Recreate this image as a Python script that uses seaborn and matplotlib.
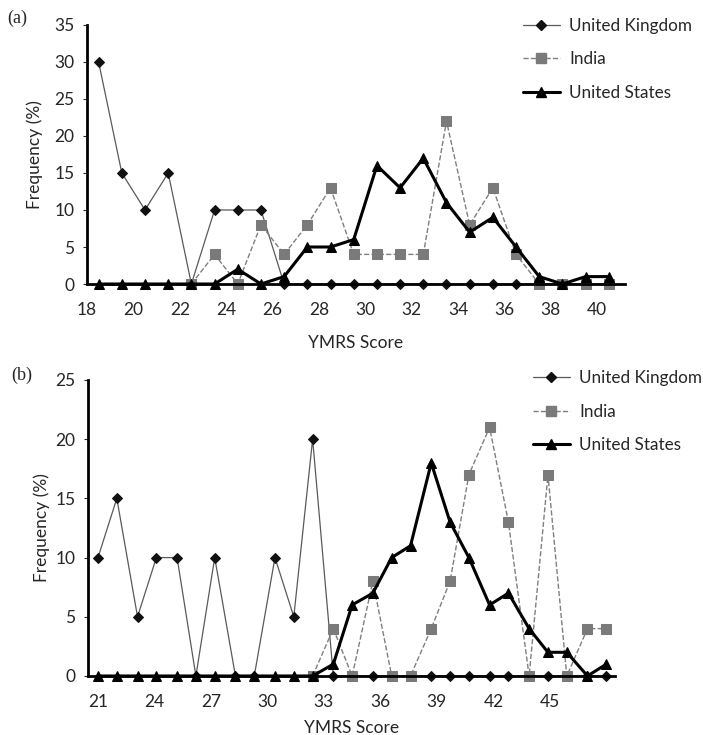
import numpy as np
import pandas as pd
import matplotlib
matplotlib.use('Agg')
import matplotlib.pyplot as plt
from matplotlib.lines import Line2D
import seaborn as sns

# Painel (a): frequencia (%) por escore YMRS
score_a = [18.5, 19.5, 20.5, 21.5, 22.5, 23.5, 24.5, 25.5, 26.5, 27.5, 28.5, 29.5,
           30.5, 31.5, 32.5, 33.5, 34.5, 35.5, 36.5, 37.5, 38.5, 39.5, 40.5]
uk_a = [30, 15, 10, 15, 0, 10, 10, 10, 0, 0, 0, 0, 0, 0, 0, 0, 0, 0, 0, 0, 0, 0, 0]
india_a = [np.nan, np.nan, np.nan, np.nan, 0, 4, 0, 8, 4, 8, 13, 4, 4, 4, 4, 22, 8, 13, 4, 0, 0, 0, 0]
us_a = [0, 0, 0, 0, 0, 0, 2, 0, 1, 5, 5, 6, 16, 13, 17, 11, 7, 9, 5, 1, 0, 1, 1]
xticks_a = [18, 20, 22, 24, 26, 28, 30, 32, 34, 36, 38, 40]
yticks_a = [0, 5, 10, 15, 20, 25, 30, 35]

# Painel (b)
score_b = [21.0, 22.0, 23.1, 24.1, 25.2, 26.2, 27.2, 28.3, 29.3, 30.4, 31.4, 32.4, 33.5, 34.5,
           35.6, 36.6, 37.6, 38.7, 39.7, 40.7, 41.8, 42.8, 43.9, 44.9, 45.9, 47.0, 48.0]
uk_b = [10, 15, 5, 10, 10, 0, 10, 0, 0, 10, 5, 20, 0, 0, 0, 0, 0, 0, 0, 0, 0, 0, 0, 0, 0, 0, 0]
india_b = [np.nan] * 11 + [0, 4, 0, 8, 0, 0, 4, 8, 17, 21, 13, 0, 17, 0, 4, 4]
us_b = [0] * 12 + [1, 6, 7, 10, 11, 18, 13, 10, 6, 7, 4, 2, 2, 0, 1]
xticks_b = [21, 24, 27, 30, 33, 36, 39, 42, 45]
yticks_b = [0, 5, 10, 15, 20, 25]

sns.set_style('white')
plt.rcParams['font.family'] = ['Lato', 'DejaVu Sans']

estilos = {
    'United Kingdom': dict(color='#5a5a5a', linewidth=0.9, linestyle='-', marker='D',
                           markersize=5.5, markerfacecolor='#111111', markeredgecolor='#111111'),
    'India': dict(color='#7f7f7f', linewidth=1.0, linestyle='--', marker='s',
                  markersize=6.5, markerfacecolor='#7a7a7a', markeredgecolor='#7a7a7a'),
    'United States': dict(color='black', linewidth=2.2, linestyle='-', marker='^',
                          markersize=7.5, markerfacecolor='black', markeredgecolor='black'),
}
nomes = ['United Kingdom', 'India', 'United States']


def desenhar_painel(ax, score, uk, india, us, xticks, yticks, xlim, ylim):
    df = pd.DataFrame({'score': score, 'United Kingdom': uk, 'India': india, 'United States': us})
    for pais in nomes:
        sns.lineplot(data=df, x='score', y=pais, ax=ax, clip_on=False, **estilos[pais])
    ax.set_xlim(*xlim)
    ax.set_ylim(*ylim)
    ax.set_xticks(xticks)
    ax.set_xticklabels([str(t) for t in xticks])
    meio = [(score[i] + score[i + 1]) / 2 for i in range(len(score) - 1)]
    ax.set_xticks(meio, minor=True)
    ax.set_yticks(yticks)
    ax.tick_params(axis='x', which='major', length=0, pad=13, labelsize=12.5)
    ax.tick_params(axis='x', which='minor', length=4, width=0.8, color='#555555', direction='out')
    ax.tick_params(axis='y', length=3, width=0.8, pad=6, labelsize=12.5, direction='out', left=True)
    for s in ['top', 'right']:
        ax.spines[s].set_visible(False)
    for s in ['left', 'bottom']:
        ax.spines[s].set_linewidth(2.0)
        ax.spines[s].set_color('black')
    ax.set_xlabel('YMRS Score', fontsize=12.5)
    ax.set_ylabel('Frequency (%)', fontsize=12.5)
    return [Line2D([], [], **estilos[p]) for p in nomes]


fig = plt.figure(figsize=(7.03, 7.35), dpi=100)
ax_a = fig.add_axes([0.1238, 0.6136, 0.7653, 0.3524])
ax_b = fig.add_axes([0.1252, 0.0803, 0.7496, 0.4027])

h = desenhar_painel(ax_a, score_a, uk_a, india_a, us_a, xticks_a, yticks_a, (18, 41.2), (0, 35))
desenhar_painel(ax_b, score_b, uk_b, india_b, us_b, xticks_b, yticks_b, (20.47, 48.46), (0, 25))

ax_a.yaxis.labelpad = 8
ax_b.yaxis.labelpad = 4
ax_a.xaxis.labelpad = 12
ax_b.xaxis.labelpad = 7

leg_kw = dict(loc='upper left', bbox_transform=fig.transFigure, frameon=False, fontsize=12.3,
              handlelength=2.15, labelspacing=1.0, handletextpad=0.55, borderpad=0, borderaxespad=0)
ax_a.legend(h, nomes, bbox_to_anchor=(0.744, 0.975), **leg_kw)
ax_b.legend(h, nomes, bbox_to_anchor=(0.758, 0.496), **leg_kw)

fig.text(0.011, 0.975, '(a)', fontsize=13, va='center', ha='left', family='Liberation Serif')
fig.text(0.016, 0.49, '(b)', fontsize=13, va='center', ha='left', family='Liberation Serif')

fig.savefig('out.png', dpi=100)
